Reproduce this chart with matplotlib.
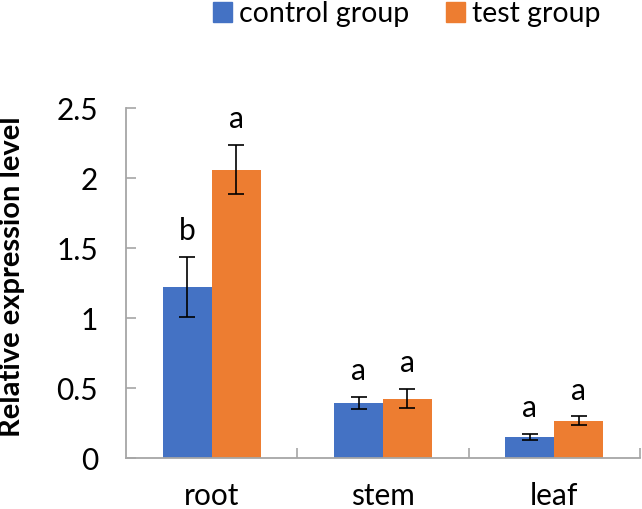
import matplotlib
matplotlib.use("Agg")
import matplotlib.pyplot as plt
import numpy as np
from matplotlib.patches import Patch

categories = ["root", "stem", "leaf"]
control_vals = [1.224, 0.392, 0.153]
control_err = [0.215, 0.042, 0.022]
test_vals = [2.060, 0.424, 0.265]
test_err = [0.176, 0.070, 0.032]
control_letters = ["b", "a", "a"]
test_letters = ["a", "a", "a"]
yticks = [0, 0.5, 1, 1.5, 2, 2.5]
ytick_labels = ["0", "0.5", "1", "1.5", "2", "2.5"]

plt.rcParams['font.family'] = ['Lato', 'DejaVu Sans']

blue = "#4472C4"
orange = "#ED7D31"
axis_gray = "#A6A6A6"
FS = 21.5

fig = plt.figure(figsize=(6.42, 5.09), dpi=100)
ax = fig.add_axes([126/642, 1-458/509, (640-126)/642, (458-108)/509])

x = np.arange(len(categories))
w = 1/3.5
ax.bar(x - w/2, control_vals, w, color=blue, yerr=control_err,
       error_kw=dict(ecolor='black', elinewidth=1.2, capsize=5.5, capthick=1.2))
ax.bar(x + w/2, test_vals, w, color=orange, yerr=test_err,
       error_kw=dict(ecolor='black', elinewidth=1.2, capsize=5.5, capthick=1.2))

off = 0.12
for i in range(len(categories)):
    ax.text(x[i] - w/2, control_vals[i] + control_err[i] + off, control_letters[i],
            ha='center', va='baseline', fontsize=FS)
    ax.text(x[i] + w/2, test_vals[i] + test_err[i] + off, test_letters[i],
            ha='center', va='baseline', fontsize=FS)

ax.set_xlim(-0.5, len(categories) - 0.5)
ax.set_ylim(0, 2.5)
ax.set_yticks(yticks)
ax.set_yticklabels(ytick_labels, fontsize=FS)
ax.set_xticks(x)
ax.set_xticklabels(categories, fontsize=FS)
ax.tick_params(axis='x', length=0, pad=17)
ax.set_xticks(np.arange(len(categories)) + 0.5, minor=True)
ax.tick_params(axis='x', which='minor', direction='in', length=7, color=axis_gray, width=1.2)
ax.tick_params(axis='y', direction='in', length=7, color=axis_gray, width=1.2, pad=20)

for s in ['top', 'right']:
    ax.spines[s].set_visible(False)
for s in ['left', 'bottom']:
    ax.spines[s].set_color(axis_gray)
    ax.spines[s].set_linewidth(1.3)

fig.text(12/642, 1-277/509, "Relative expression level", fontsize=21, fontweight='bold',
         rotation=90, ha='center', va='center')

handles = [Patch(color=blue, label="control group"), Patch(color=orange, label="test group")]
fig.legend(handles=handles, loc='center', bbox_to_anchor=(407/642, 1-14/509), ncol=2,
           frameon=False, fontsize=20.5, handlelength=0.65, handleheight=0.65,
           handletextpad=0.25, columnspacing=1.3, borderpad=0)

fig.savefig("out.png", dpi=100)
